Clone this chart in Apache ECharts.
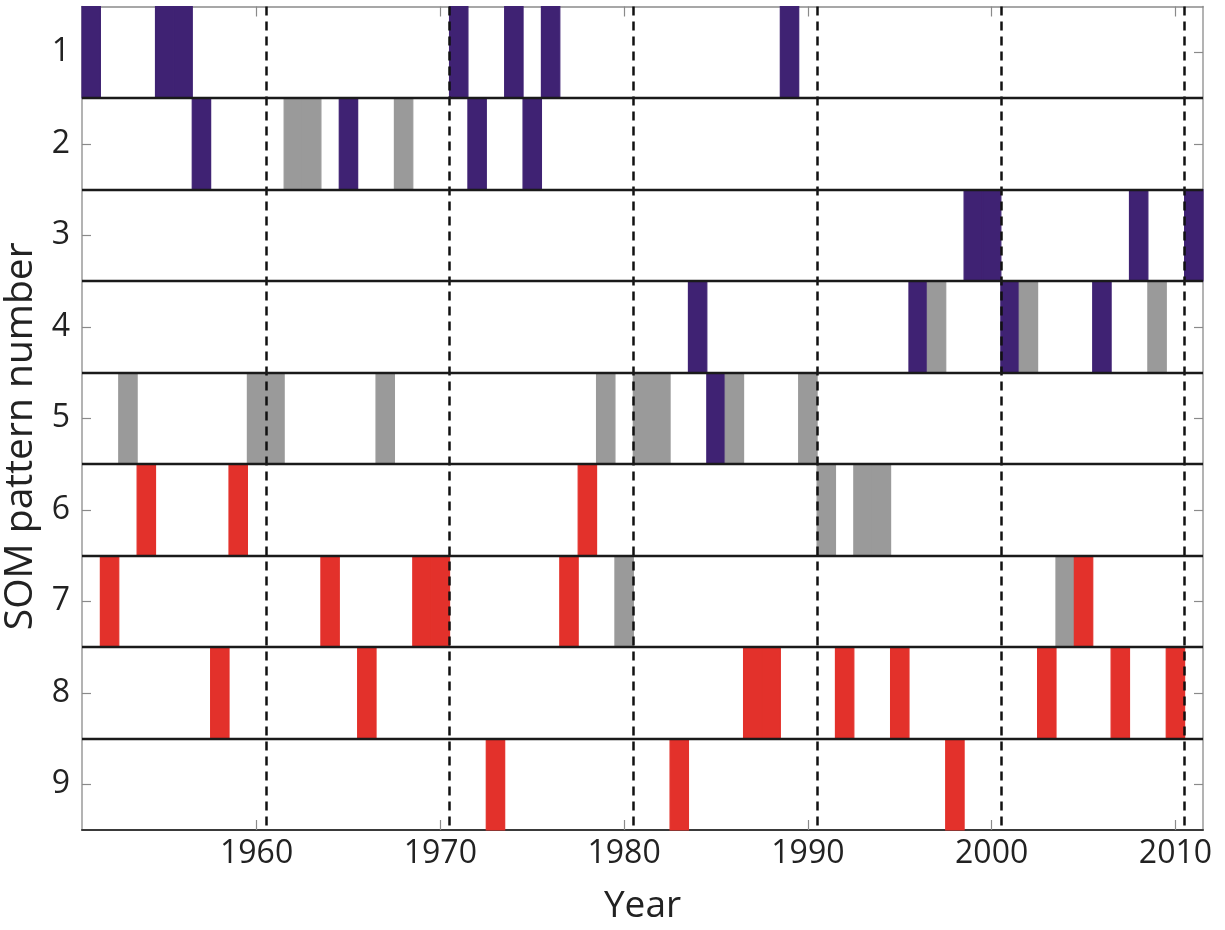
<!DOCTYPE html>
<html>
<head>
<meta charset="utf-8">
<script src="https://cdn.jsdelivr.net/npm/echarts@6/dist/echarts.min.js"></script>
<style>
html,body{margin:0;padding:0;background:#fff;}
#chart{width:1225px;height:930px;}
</style>
</head>
<body>
<div id="chart"></div>
<script>
// [year, SOM pattern number]
const purpleEvents = [[1951,1],[1955,1],[1956,1],[1971,1],[1974,1],[1976,1],[1989,1],
  [1957,2],[1965,2],[1972,2],[1975,2],
  [1999,3],[2000,3],[2008,3],[2011,3],
  [1984,4],[1996,4],[2001,4],[2006,4],
  [1985,5]];
const grayEvents = [[1962,2],[1963,2],[1968,2],
  [1997,4],[2002,4],[2009,4],
  [1953,5],[1960,5],[1961,5],[1967,5],[1979,5],[1981,5],[1982,5],[1986,5],[1990,5],
  [1991,6],[1993,6],[1994,6],
  [1980,7],[2004,7]];
const redEvents = [[1954,6],[1959,6],[1978,6],
  [1952,7],[1964,7],[1969,7],[1970,7],[1977,7],[2005,7],
  [1958,8],[1966,8],[1987,8],[1988,8],[1992,8],[1995,8],[2003,8],[2007,8],[2010,8],
  [1973,9],[1983,9],[1998,9]];
const yearTicks = [1960,1970,1980,1990,2000,2010];
const decadeBounds = [1960.5,1970.5,1980.5,1990.5,2000.5,2010.5];
const patternTicks = [1,2,3,4,5,6,7,8,9];
const patternBounds = [1.5,2.5,3.5,4.5,5.5,6.5,7.5,8.5];
const yearMin = 1950.5, yearMax = 2011.5;
const patMin = 0.5, patMax = 9.5;

const FONT = 'Open Sans';

function renderCell(params, api) {
  const x = api.value(0), y = api.value(1);
  const p0 = api.coord([x - 0.5, y - 0.5]);
  const p1 = api.coord([x + 0.5, y + 0.5]);
  const st = api.style();
  return {
    type: 'rect',
    shape: {
      x: Math.min(p0[0], p1[0]),
      y: Math.min(p0[1], p1[1]),
      width: Math.abs(p1[0] - p0[0]),
      height: Math.abs(p1[1] - p0[1])
    },
    style: {fill: st.fill, stroke: st.fill, lineWidth: 1.2}
  };
}

function cellSeries(name, data, color) {
  return {
    name: name,
    type: 'custom',
    renderItem: renderCell,
    data: data,
    encode: {x: 0, y: 1},
    itemStyle: {color: color},
    silent: true,
    animation: false
  };
}

const chart = echarts.init(document.getElementById('chart'), null, {renderer: 'canvas'});

const tickStyle = {color: '#8a8a8a', width: 1.2};
const plain = v => String(v);

chart.setOption({
  animation: false,
  backgroundColor: '#ffffff',
  grid: {left: 82, right: 22, top: 6.5, bottom: 100, containLabel: false, outerBoundsMode: 'none'},
  xAxis: [{
    type: 'value',
    position: 'bottom',
    min: yearMin, max: yearMax,
    axisLine: {show: true, lineStyle: {color: '#3a3a3a', width: 2}},
    axisTick: {show: true, inside: true, length: 10, customValues: yearTicks, lineStyle: tickStyle},
    axisLabel: {show: true, customValues: yearTicks, formatter: plain, fontSize: 32, color: '#222', fontFamily: FONT, margin: 8},
    splitLine: {show: false},
    name: 'Year',
    nameLocation: 'middle',
    nameGap: 58,
    nameTextStyle: {fontSize: 37, color: '#222', fontFamily: FONT}
  }, {
    type: 'value',
    position: 'top',
    min: yearMin, max: yearMax,
    axisLine: {show: true, lineStyle: {color: '#8a8a8a', width: 1.5}},
    axisTick: {show: true, inside: true, length: 10, customValues: yearTicks, lineStyle: tickStyle},
    axisLabel: {show: false},
    splitLine: {show: false}
  }],
  yAxis: [{
    type: 'value',
    position: 'left',
    inverse: true,
    min: patMin, max: patMax,
    axisLine: {show: true, lineStyle: {color: '#9a9a9a', width: 1.5}},
    axisTick: {show: true, inside: true, length: 9, customValues: patternTicks, lineStyle: tickStyle},
    axisLabel: {show: true, customValues: patternTicks, formatter: plain, fontSize: 32, color: '#222', fontFamily: FONT, margin: 12},
    splitLine: {show: false},
    name: 'SOM pattern number',
    nameLocation: 'middle',
    nameGap: 40,
    nameTextStyle: {fontSize: 39, color: '#222', fontFamily: FONT, padding: [0, 36, 0, 0]}
  }, {
    type: 'value',
    position: 'right',
    inverse: true,
    min: patMin, max: patMax,
    axisLine: {show: true, lineStyle: {color: '#9a9a9a', width: 1.5}},
    axisTick: {show: true, inside: true, length: 9, customValues: patternTicks, lineStyle: tickStyle},
    axisLabel: {show: false},
    splitLine: {show: false}
  }],
  series: [
    Object.assign(cellSeries('purple', purpleEvents, '#3f2273'), {
      markLine: {
        silent: true,
        symbol: ['none', 'none'],
        label: {show: false},
        animation: false,
        data: decadeBounds.map(v => ({xAxis: v, lineStyle: {color: '#111', width: 2.5, type: [9, 6]}}))
          .concat(patternBounds.map(v => ({yAxis: v, lineStyle: {color: '#1a1a1a', width: 2.4, type: 'solid'}})))
      }
    }),
    cellSeries('gray', grayEvents, '#9a9a9a'),
    cellSeries('red', redEvents, '#e3312b')
  ]
});
</script>
</body>
</html>
